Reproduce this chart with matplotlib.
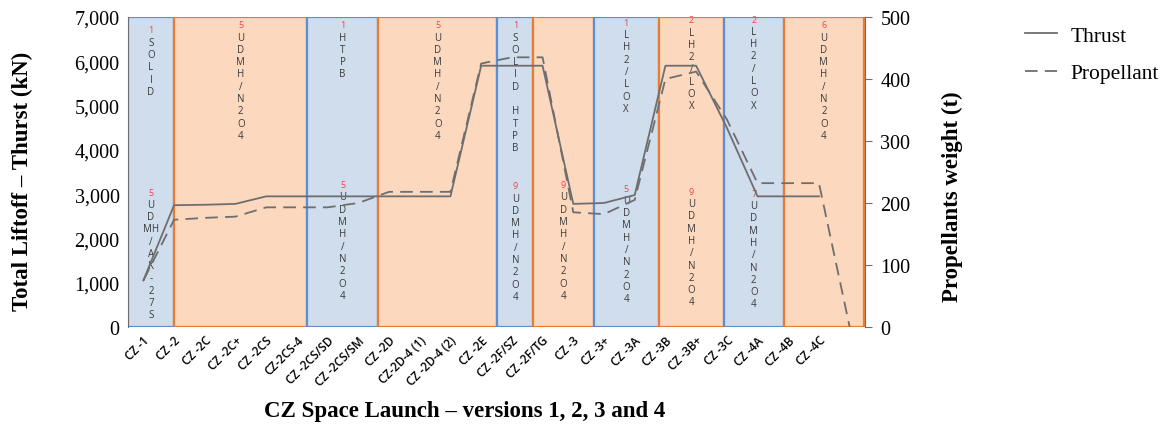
import matplotlib
matplotlib.use("Agg")
import matplotlib.pyplot as plt
from matplotlib.patches import Rectangle
from matplotlib.transforms import ScaledTranslation
import numpy as np

versions = ["CZ -1", "CZ -2", "CZ -2C", "CZ -2C+", "CZ -2CS", "CZ-2CS-4",
            "CZ -2CS/SD", "CZ -2CS/SM", "CZ -2D", "CZ-2D-4 (1)", "CZ -2D-4 (2)",
            "CZ -2E", "CZ -2F/SZ", "CZ -2F/TG", "CZ -3", "CZ -3+", "CZ -3A",
            "CZ -3B", "CZ -3B+", "CZ -3C", "CZ -4A", "CZ -4B", "CZ -4C", ""]
thrust = [1050, 2750, 2760, 2780, 2950, 2950, 2950, 2950, 2950, 2950, 2950,
          5900, 5900, 5900, 2780, 2800, 2980, 5900, 5900, 4500, 2950, 2950,
          2950, np.nan]
propellant = [75, 173, 176, 178, 193, 193, 193, 200, 218, 218, 218,
              425, 435, 435, 185, 182, 205, 400, 412, 335, 232, 232, 232, 0]

# stage groups (category units) and the engine/propellant notes inside them
group_edges = [-0.5, 1.0, 5.34, 7.64, 11.53, 12.7, 14.66, 16.79, 18.9, 20.85, 23.47]
group_kind = ["blue", "orange"] * 5
top_notes = [("1", "SOLID"), ("5", "UDMH/N2O4"), ("1", "HTPB"), ("5", "UDMH/N2O4"),
             ("1", "SOLID HTPB"), None, ("1", "LH2/LOX"), ("2", "LH2/LOX"),
             ("2", "LH2/LOX"), ("6", "UDMH/N2O4")]
bottom_notes = [("5", ["U", "D", "MH", "/", "A", "K", "-", "2", "7", "S"]), None,
                ("5", "UDMH/N2O4"), None, ("9", "UDMH/N2O4"), ("9", "UDMH/N2O4"),
                ("5", "UDMH/N2O4"), ("9", "UDMH/N2O4"), ("7", "UDMH/N2O4"), None]
top_y = [6710, 6826, 6826, 6826, 6826, 0, 6880, 6938, 6954, 6826]
bottom_y = [3048, 0, 3213, 0, 3190, 3213, 3138, 3064, 3019, 0]

fills = {"blue": "#cfdded", "orange": "#fcd8be"}
edges = {"blue": "#5b8ed4", "orange": "#ec7b30"}
gray = "#6e6e6e"
serif = "Liberation Serif"
sans = "Open Sans"

fig = plt.figure(figsize=(11.68, 4.27), dpi=100)
ax = fig.add_axes([0.1096, 0.2319, 0.6310, 0.7259])
ax2 = ax.twinx()

x = np.arange(len(versions))


def stack(xc, y, note):
    num, word = note
    ax.text(xc, y, num, ha="center", va="center", fontsize=6.5, color="#e8474b",
            family=sans, zorder=2)
    for k, ch in enumerate(word):
        if ch == " ":
            continue
        ax.annotate(ch, (xc, y), xytext=(0, -8.85 * (k + 1)), textcoords="offset points",
                    ha="center", va="center", fontsize=7, color="#3a3a3a",
                    family=sans, zorder=2)


for i in range(len(group_kind)):
    x0, x1 = group_edges[i], group_edges[i + 1]
    k = group_kind[i]
    ax.add_patch(Rectangle((x0, 0), x1 - x0, 7000, facecolor=fills[k],
                           edgecolor=edges[k], lw=1.6, zorder=1))
    xc = (x0 + x1) / 2
    if top_notes[i]:
        stack(xc, top_y[i], top_notes[i])
    if bottom_notes[i]:
        stack(xc, bottom_y[i], bottom_notes[i])

l1, = ax.plot(x, thrust, color=gray, lw=1.3, zorder=3, label="Thrust")
l2, = ax2.plot(x, propellant, color=gray, lw=1.3, linestyle=(0, (7, 4)),
               label="Propellant")

ax.set_xlim(-0.5, 23.5)
ax.set_ylim(0, 7000)
ax2.set_ylim(0, 500)
ax.set_yticks(range(0, 7001, 1000))
ax.set_yticklabels([f"{v:,}" for v in range(0, 7001, 1000)], family=serif, fontsize=14.5)
ax2.set_yticks(range(0, 501, 100))
ax2.set_yticklabels([str(v) for v in range(0, 501, 100)], family=serif, fontsize=14.5)
ax.tick_params(axis="y", length=0, pad=6)
ax2.tick_params(axis="y", length=5, color=gray, pad=6)

ax.set_xticks(x)
ax.set_xticklabels(versions, rotation=45, ha="right", va="center",
                   rotation_mode="anchor", family=sans, fontweight="semibold",
                   fontsize=8.5)
ax.tick_params(axis="x", length=0, pad=8)
shift = ScaledTranslation(3 / 72, 0, fig.dpi_scale_trans)
for lab in ax.get_xticklabels():
    lab.set_transform(lab.get_transform() + shift)

for a in (ax, ax2):
    a.spines["top"].set_visible(False)
    a.spines["bottom"].set_visible(False)
ax.spines["left"].set_color(gray)
ax.spines["right"].set_visible(False)
ax2.spines["left"].set_visible(False)
ax2.spines["right"].set_color(gray)

ax.set_ylabel("Total Liftoff – Thurst (kN)", family=serif, fontweight="bold",
              fontsize=16.5, va="center")
ax.yaxis.set_label_coords(-0.1438, 0.4726)
ax2.set_ylabel("Propellants weight (t)", family=serif, fontweight="bold",
               fontsize=16.5, va="center")
ax2.yaxis.set_label_coords(1.118, 0.4226)
ax.set_xlabel("CZ Space Launch – versions 1, 2, 3 and 4", family=serif,
              fontweight="bold", fontsize=16.5, va="center")
ax.xaxis.set_label_coords(0.457, -0.271)

fig.legend(handles=[l1, l2], loc="upper left", bbox_to_anchor=(0.8776, 0.937),
           frameon=False, prop={"family": serif, "size": 15.5}, handlelength=1.5,
           labelspacing=0.8, handletextpad=0.6, borderpad=0, borderaxespad=0)

fig.savefig("out.png", dpi=100)
